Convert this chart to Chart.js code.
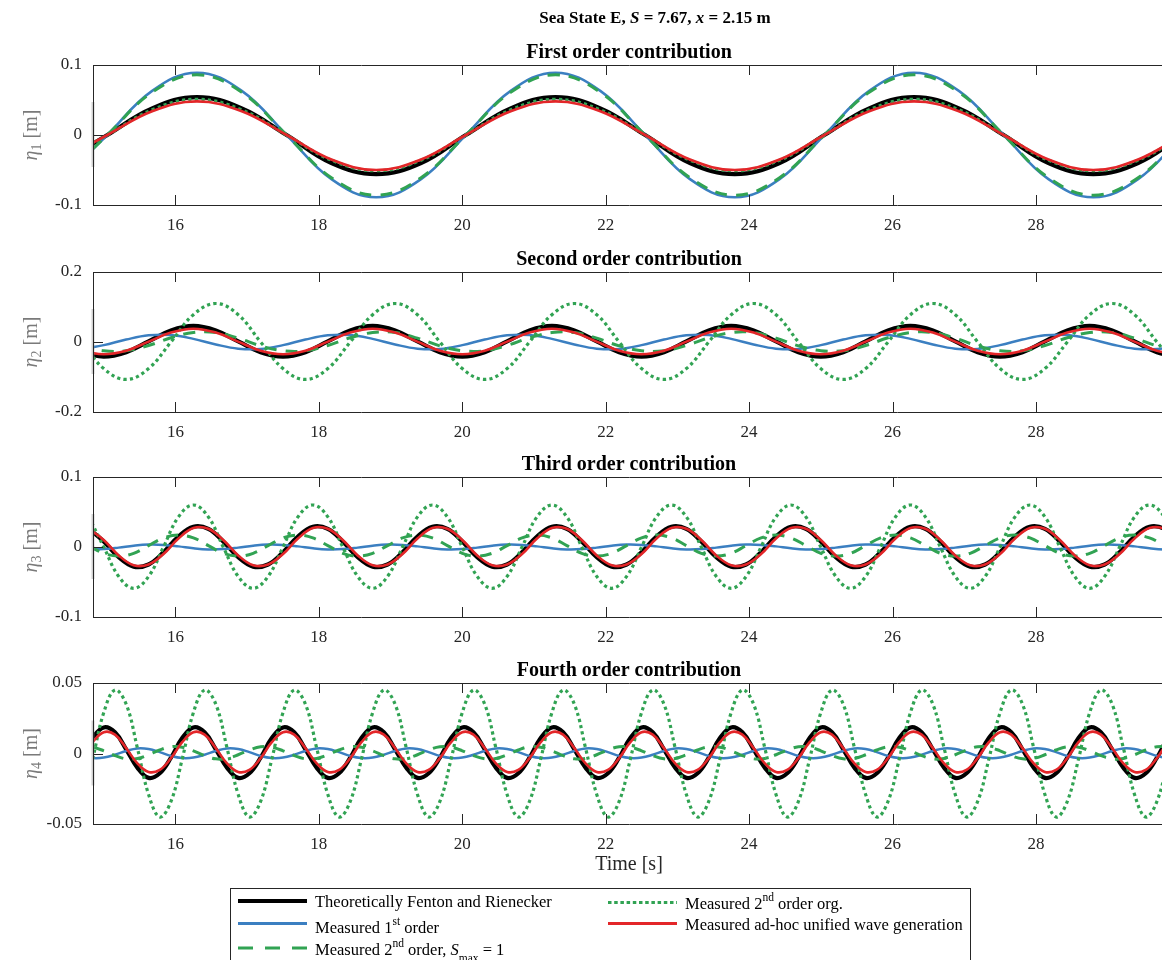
<!DOCTYPE html>
<html>
<head>
<meta charset="utf-8">
<title>Sea State E</title>
<script src="https://cdn.jsdelivr.net/npm/chart.js@4.4.1/dist/chart.umd.min.js"></script>
<style>
  html, body { margin: 0; padding: 0; background: #fff; }
  body { width: 1162px; height: 960px; overflow: hidden; position: relative; }
  canvas { position: absolute; left: 0; }
  svg { position: absolute; left: 0; top: 0; }
</style>
</head>
<body>
<canvas id="c1" width="1168" height="194" style="top:41px"></canvas>
<canvas id="c2" width="1168" height="194" style="top:248px"></canvas>
<canvas id="c3" width="1168" height="194" style="top:453px"></canvas>
<canvas id="c4" width="1168" height="225" style="top:659px"></canvas>

<svg width="1162" height="960" font-family="Liberation Serif, Times New Roman, serif">
  <text x="655" y="23" text-anchor="middle" font-size="17" font-weight="bold" fill="#000">Sea State E, <tspan font-style="italic">S</tspan> = 7.67, <tspan font-style="italic">x</tspan> = 2.15 m</text>
  <rect x="230.5" y="888.5" width="740" height="80" fill="#fff" stroke="#262626" stroke-width="1"/>
  <line x1="238" y1="901" x2="307" y2="901" stroke="#000" stroke-width="4"/>
  <line x1="238" y1="923.5" x2="307" y2="923.5" stroke="#3b7fc1" stroke-width="3"/>
  <line x1="238" y1="948" x2="307" y2="948" stroke="#31a353" stroke-width="3" stroke-dasharray="15 12"/>
  <line x1="608" y1="902.5" x2="677" y2="902.5" stroke="#31a353" stroke-width="3" stroke-dasharray="3.5 2.7"/>
  <line x1="608" y1="923.5" x2="677" y2="923.5" stroke="#e32629" stroke-width="3"/>
  <g font-size="16.5" fill="#000">
    <text x="315" y="906.7">Theoretically Fenton and Rienecker</text>
    <text x="315" y="933">Measured 1<tspan font-size="11.5" dy="-8">st</tspan><tspan dy="8"> order</tspan></text>
    <text x="315" y="955">Measured 2<tspan font-size="11.5" dy="-8">nd</tspan><tspan dy="8"> order, </tspan><tspan font-style="italic">S</tspan><tspan font-size="11.5" dy="7">max</tspan><tspan dy="-7"> = 1</tspan></text>
    <text x="685" y="909">Measured 2<tspan font-size="11.5" dy="-8">nd</tspan><tspan dy="8"> order org.</tspan></text>
    <text x="685" y="930">Measured ad-hoc unified wave generation</text>
  </g>
</svg>

<script>
// x axis (time, s)
const xTicks = [16, 18, 20, 22, 24, 26, 28];
const xMin = 14.85;
const xMax = 29.8;

// ---- first order contribution ----
const time1 = [
  14.425, 15.05, 15.675, 16.3, 16.925, 17.55, 18.175, 18.8,
  19.425, 20.05, 20.675, 21.3, 21.925, 22.55, 23.175, 23.8,
  24.425, 25.05, 25.675, 26.3, 26.925, 27.55, 28.175, 28.8,
  29.425, 30.05
];
const fenton1 = [
  -0.040, 0, 0.038, 0.054, 0.038, 0, -0.040, -0.056,
  -0.040, 0, 0.038, 0.054, 0.038, 0, -0.040, -0.056,
  -0.040, 0, 0.038, 0.054, 0.038, 0, -0.040, -0.056,
  -0.040, 0
];
const first1 = [
  -0.063, 0, 0.063, 0.089, 0.063, 0, -0.063, -0.089,
  -0.063, 0, 0.063, 0.089, 0.063, 0, -0.063, -0.089,
  -0.063, 0, 0.063, 0.089, 0.063, 0, -0.063, -0.089,
  -0.063, 0
];
const second1 = [
  -0.061, 0, 0.061, 0.086, 0.061, 0, -0.061, -0.086,
  -0.061, 0, 0.061, 0.086, 0.061, 0, -0.061, -0.086,
  -0.061, 0, 0.061, 0.086, 0.061, 0, -0.061, -0.086,
  -0.061, 0
];
const org1 = [
  -0.036, 0, 0.036, 0.051, 0.036, 0, -0.036, -0.051,
  -0.036, 0, 0.036, 0.051, 0.036, 0, -0.036, -0.051,
  -0.036, 0, 0.036, 0.051, 0.036, 0, -0.036, -0.051,
  -0.036, 0
];
const adhoc1 = [
  -0.035, 0, 0.034, 0.048, 0.034, 0, -0.035, -0.050,
  -0.035, 0, 0.034, 0.048, 0.034, 0, -0.035, -0.050,
  -0.035, 0, 0.034, 0.048, 0.034, 0, -0.035, -0.050,
  -0.035, 0
];
const yTicks1 = [-0.1, 0, 0.1];

// ---- second order contribution ----
const time2 = [
  14.6875, 15, 15.3125, 15.625, 15.9375, 16.25, 16.5625, 16.875,
  17.1875, 17.5, 17.8125, 18.125, 18.4375, 18.75, 19.0625, 19.375,
  19.6875, 20, 20.3125, 20.625, 20.9375, 21.25, 21.5625, 21.875,
  22.1875, 22.5, 22.8125, 23.125, 23.4375, 23.75, 24.0625, 24.375,
  24.6875, 25, 25.3125, 25.625, 25.9375, 26.25, 26.5625, 26.875,
  27.1875, 27.5, 27.8125, 28.125, 28.4375, 28.75, 29.0625, 29.375,
  29.6875, 30
];
const fenton2 = [
  -0.029, -0.042, -0.029, 0.002, 0.033, 0.046, 0.033, 0.002,
  -0.029, -0.042, -0.029, 0.002, 0.033, 0.046, 0.033, 0.002,
  -0.029, -0.042, -0.029, 0.002, 0.033, 0.046, 0.033, 0.002,
  -0.029, -0.042, -0.029, 0.002, 0.033, 0.046, 0.033, 0.002,
  -0.029, -0.042, -0.029, 0.002, 0.033, 0.046, 0.033, 0.002,
  -0.029, -0.042, -0.029, 0.002, 0.033, 0.046, 0.033, 0.002,
  -0.029, -0.042
];
const first2 = [
  -0.020, -0.009, 0.007, 0.019, 0.020, 0.009, -0.007, -0.019,
  -0.020, -0.009, 0.007, 0.019, 0.020, 0.009, -0.007, -0.019,
  -0.020, -0.009, 0.007, 0.019, 0.020, 0.009, -0.007, -0.019,
  -0.020, -0.009, 0.007, 0.019, 0.020, 0.009, -0.007, -0.019,
  -0.020, -0.009, 0.007, 0.019, 0.020, 0.009, -0.007, -0.019,
  -0.020, -0.009, 0.007, 0.019, 0.020, 0.009, -0.007, -0.019,
  -0.020, -0.009
];
const second2 = [
  -0.011, -0.025, -0.025, -0.010, 0.012, 0.027, 0.027, 0.011,
  -0.011, -0.025, -0.025, -0.010, 0.012, 0.027, 0.027, 0.011,
  -0.011, -0.025, -0.025, -0.010, 0.012, 0.027, 0.027, 0.011,
  -0.011, -0.025, -0.025, -0.010, 0.012, 0.027, 0.027, 0.011,
  -0.011, -0.025, -0.025, -0.010, 0.012, 0.027, 0.027, 0.011,
  -0.011, -0.025, -0.025, -0.010, 0.012, 0.027, 0.027, 0.011,
  -0.011, -0.025
];
const org2 = [
  0, -0.076, -0.107, -0.076, 0, 0.078, 0.110, 0.078,
  0, -0.076, -0.107, -0.076, 0, 0.078, 0.110, 0.078,
  0, -0.076, -0.107, -0.076, 0, 0.078, 0.110, 0.078,
  0, -0.076, -0.107, -0.076, 0, 0.078, 0.110, 0.078,
  0, -0.076, -0.107, -0.076, 0, 0.078, 0.110, 0.078,
  0, -0.076, -0.107, -0.076, 0, 0.078, 0.110, 0.078,
  0, -0.076
];
const adhoc2 = [
  -0.025, -0.035, -0.025, 0.001, 0.027, 0.038, 0.027, 0.001,
  -0.025, -0.035, -0.025, 0.001, 0.027, 0.038, 0.027, 0.001,
  -0.025, -0.035, -0.025, 0.001, 0.027, 0.038, 0.027, 0.001,
  -0.025, -0.035, -0.025, 0.001, 0.027, 0.038, 0.027, 0.001,
  -0.025, -0.035, -0.025, 0.001, 0.027, 0.038, 0.027, 0.001,
  -0.025, -0.035, -0.025, 0.001, 0.027, 0.038, 0.027, 0.001,
  -0.025, -0.035
];
const yTicks2 = [-0.2, 0, 0.2];

// ---- third order contribution ----
const time3 = [
  14.7917, 15, 15.2083, 15.4167, 15.625, 15.8333, 16.0417, 16.25,
  16.4583, 16.6667, 16.875, 17.0833, 17.2917, 17.5, 17.7083, 17.9167,
  18.125, 18.3333, 18.5417, 18.75, 18.9583, 19.1667, 19.375, 19.5833,
  19.7917, 20, 20.2083, 20.4167, 20.625, 20.8333, 21.0417, 21.25,
  21.4583, 21.6667, 21.875, 22.0833, 22.2917, 22.5, 22.7083, 22.9167,
  23.125, 23.3333, 23.5417, 23.75, 23.9583, 24.1667, 24.375, 24.5833,
  24.7917, 25, 25.2083, 25.4167, 25.625, 25.8333, 26.0417, 26.25,
  26.4583, 26.6667, 26.875, 27.0833, 27.2917, 27.5, 27.7083, 27.9167,
  28.125, 28.3333, 28.5417, 28.75, 28.9583, 29.1667, 29.375, 29.5833,
  29.7917, 30
];
const fenton3 = [
  0.026, 0.008, -0.0145, -0.028, -0.025, -0.0075, 0.015, 0.029,
  0.026, 0.008, -0.0145, -0.028, -0.025, -0.0075, 0.015, 0.029,
  0.026, 0.008, -0.0145, -0.028, -0.025, -0.0075, 0.015, 0.029,
  0.026, 0.008, -0.0145, -0.028, -0.025, -0.0075, 0.015, 0.029,
  0.026, 0.008, -0.0145, -0.028, -0.025, -0.0075, 0.015, 0.029,
  0.026, 0.008, -0.0145, -0.028, -0.025, -0.0075, 0.015, 0.029,
  0.026, 0.008, -0.0145, -0.028, -0.025, -0.0075, 0.015, 0.029,
  0.026, 0.008, -0.0145, -0.028, -0.025, -0.0075, 0.015, 0.029,
  0.026, 0.008, -0.0145, -0.028, -0.025, -0.0075, 0.015, 0.029,
  0.026, 0.008
];
const first3 = [
  -0.0034, -0.003, -0.0009, 0.0018, 0.0034, 0.003, 0.0009, -0.0018,
  -0.0034, -0.003, -0.0009, 0.0018, 0.0034, 0.003, 0.0009, -0.0018,
  -0.0034, -0.003, -0.0009, 0.0018, 0.0034, 0.003, 0.0009, -0.0018,
  -0.0034, -0.003, -0.0009, 0.0018, 0.0034, 0.003, 0.0009, -0.0018,
  -0.0034, -0.003, -0.0009, 0.0018, 0.0034, 0.003, 0.0009, -0.0018,
  -0.0034, -0.003, -0.0009, 0.0018, 0.0034, 0.003, 0.0009, -0.0018,
  -0.0034, -0.003, -0.0009, 0.0018, 0.0034, 0.003, 0.0009, -0.0018,
  -0.0034, -0.003, -0.0009, 0.0018, 0.0034, 0.003, 0.0009, -0.0018,
  -0.0034, -0.003, -0.0009, 0.0018, 0.0034, 0.003, 0.0009, -0.0018,
  -0.0034, -0.003
];
const second3 = [
  0.002, -0.009, -0.013, -0.009, 0.002, 0.013, 0.017, 0.013,
  0.002, -0.009, -0.013, -0.009, 0.002, 0.013, 0.017, 0.013,
  0.002, -0.009, -0.013, -0.009, 0.002, 0.013, 0.017, 0.013,
  0.002, -0.009, -0.013, -0.009, 0.002, 0.013, 0.017, 0.013,
  0.002, -0.009, -0.013, -0.009, 0.002, 0.013, 0.017, 0.013,
  0.002, -0.009, -0.013, -0.009, 0.002, 0.013, 0.017, 0.013,
  0.002, -0.009, -0.013, -0.009, 0.002, 0.013, 0.017, 0.013,
  0.002, -0.009, -0.013, -0.009, 0.002, 0.013, 0.017, 0.013,
  0.002, -0.009, -0.013, -0.009, 0.002, 0.013, 0.017, 0.013,
  0.002, -0.009
];
const org3 = [
  0.043, 0, -0.042, -0.059, -0.042, 0, 0.043, 0.060,
  0.043, 0, -0.042, -0.059, -0.042, 0, 0.043, 0.060,
  0.043, 0, -0.042, -0.059, -0.042, 0, 0.043, 0.060,
  0.043, 0, -0.042, -0.059, -0.042, 0, 0.043, 0.060,
  0.043, 0, -0.042, -0.059, -0.042, 0, 0.043, 0.060,
  0.043, 0, -0.042, -0.059, -0.042, 0, 0.043, 0.060,
  0.043, 0, -0.042, -0.059, -0.042, 0, 0.043, 0.060,
  0.043, 0, -0.042, -0.059, -0.042, 0, 0.043, 0.060,
  0.043, 0, -0.042, -0.059, -0.042, 0, 0.043, 0.060,
  0.043, 0
];
const adhoc3 = [
  0.026, 0.010, -0.012, -0.026, -0.025, -0.010, 0.012, 0.027,
  0.026, 0.010, -0.012, -0.026, -0.025, -0.010, 0.012, 0.027,
  0.026, 0.010, -0.012, -0.026, -0.025, -0.010, 0.012, 0.027,
  0.026, 0.010, -0.012, -0.026, -0.025, -0.010, 0.012, 0.027,
  0.026, 0.010, -0.012, -0.026, -0.025, -0.010, 0.012, 0.027,
  0.026, 0.010, -0.012, -0.026, -0.025, -0.010, 0.012, 0.027,
  0.026, 0.010, -0.012, -0.026, -0.025, -0.010, 0.012, 0.027,
  0.026, 0.010, -0.012, -0.026, -0.025, -0.010, 0.012, 0.027,
  0.026, 0.010, -0.012, -0.026, -0.025, -0.010, 0.012, 0.027,
  0.026, 0.010
];
const yTicks3 = [-0.1, 0, 0.1];

// ---- fourth order contribution ----
const time4 = [
  14.6875, 14.84375, 15, 15.15625, 15.3125, 15.46875, 15.625, 15.78125,
  15.9375, 16.09375, 16.25, 16.40625, 16.5625, 16.71875, 16.875, 17.03125,
  17.1875, 17.34375, 17.5, 17.65625, 17.8125, 17.96875, 18.125, 18.28125,
  18.4375, 18.59375, 18.75, 18.90625, 19.0625, 19.21875, 19.375, 19.53125,
  19.6875, 19.84375, 20, 20.15625, 20.3125, 20.46875, 20.625, 20.78125,
  20.9375, 21.09375, 21.25, 21.40625, 21.5625, 21.71875, 21.875, 22.03125,
  22.1875, 22.34375, 22.5, 22.65625, 22.8125, 22.96875, 23.125, 23.28125,
  23.4375, 23.59375, 23.75, 23.90625, 24.0625, 24.21875, 24.375, 24.53125,
  24.6875, 24.84375, 25, 25.15625, 25.3125, 25.46875, 25.625, 25.78125,
  25.9375, 26.09375, 26.25, 26.40625, 26.5625, 26.71875, 26.875, 27.03125,
  27.1875, 27.34375, 27.5, 27.65625, 27.8125, 27.96875, 28.125, 28.28125,
  28.4375, 28.59375, 28.75, 28.90625, 29.0625, 29.21875, 29.375, 29.53125,
  29.6875, 29.84375, 30
];
const fenton4 = [
  -0.003, 0.011, 0.0185, 0.015, 0.003, -0.010, -0.0173, -0.014,
  -0.003, 0.011, 0.0185, 0.015, 0.003, -0.010, -0.0173, -0.014,
  -0.003, 0.011, 0.0185, 0.015, 0.003, -0.010, -0.0173, -0.014,
  -0.003, 0.011, 0.0185, 0.015, 0.003, -0.010, -0.0173, -0.014,
  -0.003, 0.011, 0.0185, 0.015, 0.003, -0.010, -0.0173, -0.014,
  -0.003, 0.011, 0.0185, 0.015, 0.003, -0.010, -0.0173, -0.014,
  -0.003, 0.011, 0.0185, 0.015, 0.003, -0.010, -0.0173, -0.014,
  -0.003, 0.011, 0.0185, 0.015, 0.003, -0.010, -0.0173, -0.014,
  -0.003, 0.011, 0.0185, 0.015, 0.003, -0.010, -0.0173, -0.014,
  -0.003, 0.011, 0.0185, 0.015, 0.003, -0.010, -0.0173, -0.014,
  -0.003, 0.011, 0.0185, 0.015, 0.003, -0.010, -0.0173, -0.014,
  -0.003, 0.011, 0.0185, 0.015, 0.003, -0.010, -0.0173, -0.014,
  -0.003, 0.011, 0.0185
];
const first4 = [
  -0.0017, -0.0032, -0.0029, -0.0009, 0.0018, 0.0036, 0.0032, 0.001,
  -0.0017, -0.0032, -0.0029, -0.0009, 0.0018, 0.0036, 0.0032, 0.001,
  -0.0017, -0.0032, -0.0029, -0.0009, 0.0018, 0.0036, 0.0032, 0.001,
  -0.0017, -0.0032, -0.0029, -0.0009, 0.0018, 0.0036, 0.0032, 0.001,
  -0.0017, -0.0032, -0.0029, -0.0009, 0.0018, 0.0036, 0.0032, 0.001,
  -0.0017, -0.0032, -0.0029, -0.0009, 0.0018, 0.0036, 0.0032, 0.001,
  -0.0017, -0.0032, -0.0029, -0.0009, 0.0018, 0.0036, 0.0032, 0.001,
  -0.0017, -0.0032, -0.0029, -0.0009, 0.0018, 0.0036, 0.0032, 0.001,
  -0.0017, -0.0032, -0.0029, -0.0009, 0.0018, 0.0036, 0.0032, 0.001,
  -0.0017, -0.0032, -0.0029, -0.0009, 0.0018, 0.0036, 0.0032, 0.001,
  -0.0017, -0.0032, -0.0029, -0.0009, 0.0018, 0.0036, 0.0032, 0.001,
  -0.0017, -0.0032, -0.0029, -0.0009, 0.0018, 0.0036, 0.0032, 0.001,
  -0.0017, -0.0032, -0.0029
];
const second4 = [
  0.0048, 0.0045, 0.0019, -0.0015, -0.0038, -0.0035, -0.0009, 0.0025,
  0.0048, 0.0045, 0.0019, -0.0015, -0.0038, -0.0035, -0.0009, 0.0025,
  0.0048, 0.0045, 0.0019, -0.0015, -0.0038, -0.0035, -0.0009, 0.0025,
  0.0048, 0.0045, 0.0019, -0.0015, -0.0038, -0.0035, -0.0009, 0.0025,
  0.0048, 0.0045, 0.0019, -0.0015, -0.0038, -0.0035, -0.0009, 0.0025,
  0.0048, 0.0045, 0.0019, -0.0015, -0.0038, -0.0035, -0.0009, 0.0025,
  0.0048, 0.0045, 0.0019, -0.0015, -0.0038, -0.0035, -0.0009, 0.0025,
  0.0048, 0.0045, 0.0019, -0.0015, -0.0038, -0.0035, -0.0009, 0.0025,
  0.0048, 0.0045, 0.0019, -0.0015, -0.0038, -0.0035, -0.0009, 0.0025,
  0.0048, 0.0045, 0.0019, -0.0015, -0.0038, -0.0035, -0.0009, 0.0025,
  0.0048, 0.0045, 0.0019, -0.0015, -0.0038, -0.0035, -0.0009, 0.0025,
  0.0048, 0.0045, 0.0019, -0.0015, -0.0038, -0.0035, -0.0009, 0.0025,
  0.0048, 0.0045, 0.0019
];
const org4 = [
  -0.034, -0.004, 0.029, 0.045, 0.035, 0.004, -0.029, -0.045,
  -0.034, -0.004, 0.029, 0.045, 0.035, 0.004, -0.029, -0.045,
  -0.034, -0.004, 0.029, 0.045, 0.035, 0.004, -0.029, -0.045,
  -0.034, -0.004, 0.029, 0.045, 0.035, 0.004, -0.029, -0.045,
  -0.034, -0.004, 0.029, 0.045, 0.035, 0.004, -0.029, -0.045,
  -0.034, -0.004, 0.029, 0.045, 0.035, 0.004, -0.029, -0.045,
  -0.034, -0.004, 0.029, 0.045, 0.035, 0.004, -0.029, -0.045,
  -0.034, -0.004, 0.029, 0.045, 0.035, 0.004, -0.029, -0.045,
  -0.034, -0.004, 0.029, 0.045, 0.035, 0.004, -0.029, -0.045,
  -0.034, -0.004, 0.029, 0.045, 0.035, 0.004, -0.029, -0.045,
  -0.034, -0.004, 0.029, 0.045, 0.035, 0.004, -0.029, -0.045,
  -0.034, -0.004, 0.029, 0.045, 0.035, 0.004, -0.029, -0.045,
  -0.034, -0.004, 0.029
];
const adhoc4 = [
  -0.0033, 0.008, 0.0151, 0.0134, 0.0038, -0.007, -0.0131, -0.0116,
  -0.0033, 0.008, 0.0151, 0.0134, 0.0038, -0.007, -0.0131, -0.0116,
  -0.0033, 0.008, 0.0151, 0.0134, 0.0038, -0.007, -0.0131, -0.0116,
  -0.0033, 0.008, 0.0151, 0.0134, 0.0038, -0.007, -0.0131, -0.0116,
  -0.0033, 0.008, 0.0151, 0.0134, 0.0038, -0.007, -0.0131, -0.0116,
  -0.0033, 0.008, 0.0151, 0.0134, 0.0038, -0.007, -0.0131, -0.0116,
  -0.0033, 0.008, 0.0151, 0.0134, 0.0038, -0.007, -0.0131, -0.0116,
  -0.0033, 0.008, 0.0151, 0.0134, 0.0038, -0.007, -0.0131, -0.0116,
  -0.0033, 0.008, 0.0151, 0.0134, 0.0038, -0.007, -0.0131, -0.0116,
  -0.0033, 0.008, 0.0151, 0.0134, 0.0038, -0.007, -0.0131, -0.0116,
  -0.0033, 0.008, 0.0151, 0.0134, 0.0038, -0.007, -0.0131, -0.0116,
  -0.0033, 0.008, 0.0151, 0.0134, 0.0038, -0.007, -0.0131, -0.0116,
  -0.0033, 0.008, 0.0151
];
const yTicks4 = [-0.05, 0, 0.05];

// one entry per series, same order as the legend
const lineStyles = [
  { label: 'Theoretically Fenton and Rienecker', color: '#000000', width: 4.2, dash: [], order: 5 },
  { label: 'Measured 1st order', color: '#3b7fc1', width: 2.5, dash: [], order: 4 },
  { label: 'Measured 2nd order, Smax = 1', color: '#31a353', width: 3, dash: [12, 9], order: 3 },
  { label: 'Measured 2nd order org.', color: '#31a353', width: 3.2, dash: [3.2, 3.2], order: 2 },
  { label: 'Measured ad-hoc unified wave generation', color: '#e32629', width: 2.6, dash: [], order: 1 },
];

Chart.defaults.font.family = '"Liberation Serif", "Times New Roman", serif';
Chart.defaults.color = '#262626';

// box, inward ticks, the faint bar at the left edge and the eta_n [m] label
const framePlugin = {
  id: 'frame',
  afterDatasetsDraw(chart, args, opts) {
    const { ctx, chartArea: a, scales } = chart;
    const mid = (a.top + a.bottom) / 2;
    ctx.save();
    ctx.fillStyle = 'rgba(150,150,150,0.45)';
    ctx.fillRect(a.left - 1.5, mid - 33, 3, 65);

    ctx.strokeStyle = '#262626';
    ctx.lineWidth = 1;
    ctx.beginPath();
    ctx.rect(Math.round(a.left) + 0.5, Math.round(a.top) + 0.5, a.right - a.left, Math.round(a.bottom - a.top));
    scales.x.ticks.forEach(t => {
      const px = Math.round(scales.x.getPixelForValue(t.value)) + 0.5;
      ctx.moveTo(px, a.bottom); ctx.lineTo(px, a.bottom - 10);
      ctx.moveTo(px, a.top); ctx.lineTo(px, a.top + 10);
    });
    scales.y.ticks.forEach(t => {
      const py = Math.round(scales.y.getPixelForValue(t.value)) + 0.5;
      ctx.moveTo(a.left, py); ctx.lineTo(a.left + 10, py);
    });
    ctx.stroke();

    ctx.translate(37, mid);
    ctx.rotate(-Math.PI / 2);
    ctx.fillStyle = '#7a7a7a';
    ctx.textBaseline = 'alphabetic';
    const fEta = 'italic 20px "Liberation Serif"';
    const fSub = '14px "Liberation Serif"';
    const fUnit = '20px "Liberation Serif"';
    ctx.font = fEta; const w1 = ctx.measureText('η').width;
    ctx.font = fSub; const w2 = ctx.measureText(opts.sub).width;
    ctx.font = fUnit; const w3 = ctx.measureText(' [m]').width;
    let x = -(w1 + w2 + w3) / 2;
    ctx.font = fEta; ctx.fillText('η', x, 0); x += w1;
    ctx.font = fSub; ctx.fillText(opts.sub, x, 4); x += w2;
    ctx.font = fUnit; ctx.fillText(' [m]', x, 0);
    ctx.restore();
  }
};

function makePanel(id, time, series, yMin, yMax, yTicks, title, sub, xTitle) {
  new Chart(document.getElementById(id), {
    type: 'line',
    data: {
      datasets: series.map((vals, i) => ({
        label: lineStyles[i].label,
        data: time.map((t, k) => ({ x: t, y: vals[k] })),
        borderColor: lineStyles[i].color,
        borderWidth: lineStyles[i].width,
        borderDash: lineStyles[i].dash,
        borderJoinStyle: 'round',
        order: lineStyles[i].order,
        pointRadius: 0,
        tension: 0.4,
        fill: false,
      })),
    },
    options: {
      responsive: false,
      animation: false,
      devicePixelRatio: 1,
      layout: { padding: { left: 0, right: 3, top: 0, bottom: 0 } },
      plugins: {
        legend: { display: false },
        tooltip: { enabled: false },
        title: {
          display: true,
          text: title,
          fullSize: false,
          color: '#000',
          font: { size: 20, weight: 'bold' },
          padding: { top: 0, bottom: 0 },
        },
        frame: { sub: sub },
      },
      scales: {
        x: {
          type: 'linear',
          min: xMin,
          max: xMax,
          afterBuildTicks: s => { s.ticks = xTicks.map(v => ({ value: v })); },
          afterFit: s => { s.height = xTitle ? 60 : 30; },
          grid: { display: false, drawTicks: false },
          border: { display: false },
          ticks: { padding: 10, color: '#262626', font: { size: 17 }, maxRotation: 0, autoSkip: false },
          title: { display: !!xTitle, text: xTitle || '', color: '#262626', font: { size: 20 }, padding: { top: 0, bottom: 7 } },
        },
        y: {
          min: yMin,
          max: yMax,
          afterBuildTicks: s => { s.ticks = yTicks.map(v => ({ value: v })); },
          afterFit: s => { s.width = 93; },
          grid: { display: false, drawTicks: false },
          border: { display: false },
          ticks: { padding: 11, color: '#262626', font: { size: 17 }, callback: v => String(v) },
        },
      },
    },
    plugins: [framePlugin],
  });
}

makePanel('c1', time1, [fenton1, first1, second1, org1, adhoc1], -0.1, 0.1, yTicks1, 'First order contribution', '1');
makePanel('c2', time2, [fenton2, first2, second2, org2, adhoc2], -0.2, 0.2, yTicks2, 'Second order contribution', '2');
makePanel('c3', time3, [fenton3, first3, second3, org3, adhoc3], -0.1, 0.1, yTicks3, 'Third order contribution', '3');
makePanel('c4', time4, [fenton4, first4, second4, org4, adhoc4], -0.05, 0.05, yTicks4, 'Fourth order contribution', '4', 'Time [s]');
</script>
</body>
</html>
